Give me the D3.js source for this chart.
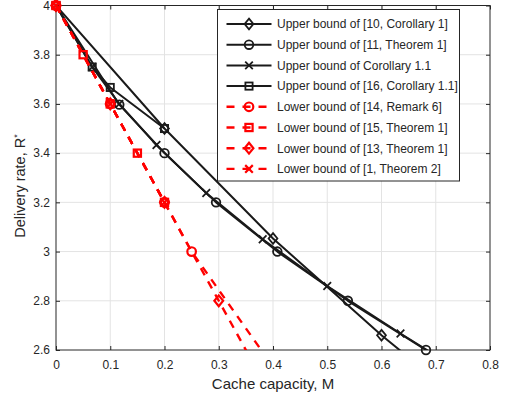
<!DOCTYPE html>
<html>
<head>
<meta charset="utf-8">
<script src="https://cdn.jsdelivr.net/npm/d3@7"></script>
<style>
  body { margin: 0; background: #fff; }
  text { font-family: "Liberation Sans", Arial, sans-serif; }
</style>
</head>
<body>
<svg id="chart"></svg>
<script>
// tick labels
const xTicks = [0, 0.1, 0.2, 0.3, 0.4, 0.5, 0.6, 0.7, 0.8];
const yTicks = [2.6, 2.8, 3, 3.2, 3.4, 3.6, 3.8, 4];

// upper bounds (black, solid)
const ub10M = [0, 0.2, 0.4, 0.6, 0.8];
const ub10R = [4, 3.5, 3.053, 2.66, 2.3];
const ub11M = [0, 0.1167, 0.2, 0.295, 0.408, 0.538, 0.682];
const ub11R = [4, 3.597, 3.4, 3.2, 3.0, 2.8, 2.6];
const ubCorM = [0, 0.0667, 0.1167, 0.1852, 0.277, 0.381, 0.5, 0.635, 0.8];
const ubCorR = [4, 3.75, 3.6, 3.433, 3.238, 3.05, 2.86, 2.667, 2.44];
const ub16M = [0, 0.0667, 0.1, 0.2];
const ub16R = [4, 3.75, 3.667, 3.5];

// lower bounds (red, dashed)
const lb14M = [0, 0.1, 0.2, 0.25, 0.5];
const lb14R = [4, 3.6, 3.2, 3.0, 2.22];
const lb15M = [0, 0.05, 0.1, 0.15, 0.2];
const lb15R = [4, 3.8, 3.6, 3.4, 3.2];
const lb13M = [0, 0.1, 0.2, 0.3, 0.4];
const lb13R = [4, 3.6, 3.2, 2.8, 2.4];
const lb1M = [0, 0.1, 0.2];
const lb1R = [4, 3.6, 3.2];

const legendLabels = [
  "Upper bound of [10, Corollary 1]",
  "Upper bound of [11, Theorem 1]",
  "Upper bound of Corollary 1.1",
  "Upper bound of [16, Corollary 1.1]",
  "Lower bound of [14, Remark 6]",
  "Lower bound of [15, Theorem 1]",
  "Lower bound of [13, Theorem 1]",
  "Lower bound of [1, Theorem 2]"
];

const BLACK = "#1a1a1a", RED = "#ff0000";
const series = [
  {M: ub10M, R: ub10R, color: BLACK, marker: "diamond", dash: null},
  {M: ub11M, R: ub11R, color: BLACK, marker: "circle", dash: null},
  {M: ubCorM, R: ubCorR, color: BLACK, marker: "cross", dash: null},
  {M: ub16M, R: ub16R, color: BLACK, marker: "square", dash: null},
  {M: lb14M, R: lb14R, color: RED, marker: "circle", dash: "8,7"},
  {M: lb15M, R: lb15R, color: RED, marker: "square", dash: "8,7"},
  {M: lb13M, R: lb13R, color: RED, marker: "diamond", dash: "8,7"},
  {M: lb1M, R: lb1R, color: RED, marker: "cross", dash: "8,7"}
];
series.forEach((s, i) => s.label = legendLabels[i]);

const W = 510, H = 399;
const svg = d3.select("#chart").attr("width", W).attr("height", H);
const pL = 56, pR = 490, pT = 5.5, pB = 350;

const x = d3.scaleLinear().domain([0, 0.8]).range([pL, pR]);
const y = d3.scaleLinear().domain([2.6, 4]).range([pB, pT]);

// grid
const grid = svg.append("g").attr("stroke", "#e3e3e3").attr("stroke-width", 1);
grid.selectAll("line.v").data(xTicks.slice(1, -1)).join("line")
  .attr("x1", d => x(d)).attr("x2", d => x(d)).attr("y1", pT).attr("y2", pB);
grid.selectAll("line.h").data(yTicks.slice(1, -1)).join("line")
  .attr("x1", pL).attr("x2", pR).attr("y1", d => y(d)).attr("y2", d => y(d));

// axes (inward ticks, box)
const axisColor = "#262626";
function styleAxis(g) {
  g.select(".domain").remove();
  g.selectAll(".tick line").attr("stroke", axisColor);
  g.selectAll(".tick text").attr("fill", axisColor).style("font-size", "12px")
    .style("font-family", "'Liberation Sans', Arial, sans-serif");
}
svg.append("g").attr("transform", `translate(0,${pB})`)
  .call(d3.axisBottom(x).tickValues(xTicks).tickFormat(d3.format("")).tickSize(-4).tickPadding(10))
  .call(styleAxis);
svg.append("g").attr("transform", `translate(0,${pT})`)
  .call(d3.axisTop(x).tickValues(xTicks).tickFormat("").tickSize(-4))
  .call(styleAxis);
svg.append("g").attr("transform", `translate(${pL},0)`)
  .call(d3.axisLeft(y).tickValues(yTicks).tickFormat(d3.format("")).tickSize(-4).tickPadding(6))
  .call(styleAxis);
svg.append("g").attr("transform", `translate(${pR},0)`)
  .call(d3.axisRight(y).tickValues(yTicks).tickFormat("").tickSize(-4))
  .call(styleAxis);
svg.append("rect").attr("x", pL).attr("y", pT)
  .attr("width", pR - pL).attr("height", pB - pT)
  .attr("fill", "none").attr("stroke", axisColor).attr("stroke-width", 1);

// labels
svg.append("text").attr("x", (pL + pR) / 2).attr("y", 389)
  .attr("text-anchor", "middle").attr("fill", axisColor).style("font-size", "15px")
  .text("Cache capacity, M");
const yl = svg.append("text")
  .attr("transform", `translate(25,186) rotate(-90)`)
  .attr("text-anchor", "middle").attr("fill", axisColor).style("font-size", "14.5px");
yl.append("tspan").text("Delivery rate, R");
yl.append("tspan").attr("dy", -5).style("font-size", "9px").text("*");

// clip for lines
svg.append("clipPath").attr("id", "plotclip").append("rect")
  .attr("x", pL).attr("y", pT).attr("width", pR - pL).attr("height", pB - pT);

function drawMarker(g, type, cx, cy, color, sw) {
  if (type === "circle") {
    g.append("circle").attr("cx", cx).attr("cy", cy).attr("r", 4.3)
      .attr("fill", "none").attr("stroke", color).attr("stroke-width", sw);
  } else if (type === "square") {
    g.append("rect").attr("x", cx - 3.6).attr("y", cy - 3.6).attr("width", 7.2).attr("height", 7.2)
      .attr("fill", "none").attr("stroke", color).attr("stroke-width", sw);
  } else if (type === "diamond") {
    g.append("path").attr("d", `M${cx},${cy - 5.4}L${cx + 4.4},${cy}L${cx},${cy + 5.4}L${cx - 4.4},${cy}Z`)
      .attr("fill", "none").attr("stroke", color).attr("stroke-width", sw);
  } else if (type === "cross") {
    const a = 3.8;
    g.append("path").attr("d", `M${cx - a},${cy - a}L${cx + a},${cy + a}M${cx - a},${cy + a}L${cx + a},${cy - a}`)
      .attr("fill", "none").attr("stroke", color).attr("stroke-width", sw);
  }
}

const line = d3.line().x(d => x(d[0])).y(d => y(d[1]));

series.forEach(s => {
  const pts = s.M.map((m, i) => [m, s.R[i]]);
  const lw = s.dash ? 2.4 : 2;
  const g = svg.append("g");
  g.append("path").datum(pts).attr("d", line)
    .attr("clip-path", "url(#plotclip)")
    .attr("fill", "none").attr("stroke", s.color)
    .attr("stroke-width", lw)
    .attr("stroke-dasharray", s.dash)
    .attr("stroke-linejoin", "round");
  pts.filter(p => p[0] <= 0.8 && p[1] >= 2.6 - 1e-9 && p[1] <= 4 + 1e-9)
    .forEach(p => drawMarker(g, s.marker, x(p[0]), y(p[1]), s.color, s.dash ? 2.2 : 1.8));
});

// legend
const lg = svg.append("g");
lg.append("rect").attr("x", 217.5).attr("y", 9.5).attr("width", 242).attr("height", 171.5)
  .attr("fill", "#fff").attr("stroke", axisColor).attr("stroke-width", 1);
series.forEach((s, i) => {
  const cy = 24 + i * 20.7;
  lg.append("line").attr("x1", 226.5).attr("x2", 271.5).attr("y1", cy).attr("y2", cy)
    .attr("stroke", s.color).attr("stroke-width", s.dash ? 2.4 : 2)
    .attr("stroke-dasharray", s.dash ? "8,8" : null);
  drawMarker(lg, s.marker, 249, cy, s.color, s.dash ? 2.2 : 1.8);
  lg.append("text").attr("x", 277).attr("y", cy + 4.3)
    .attr("fill", axisColor).style("font-size", "12px").text(s.label);
});
</script>
</body>
</html>
